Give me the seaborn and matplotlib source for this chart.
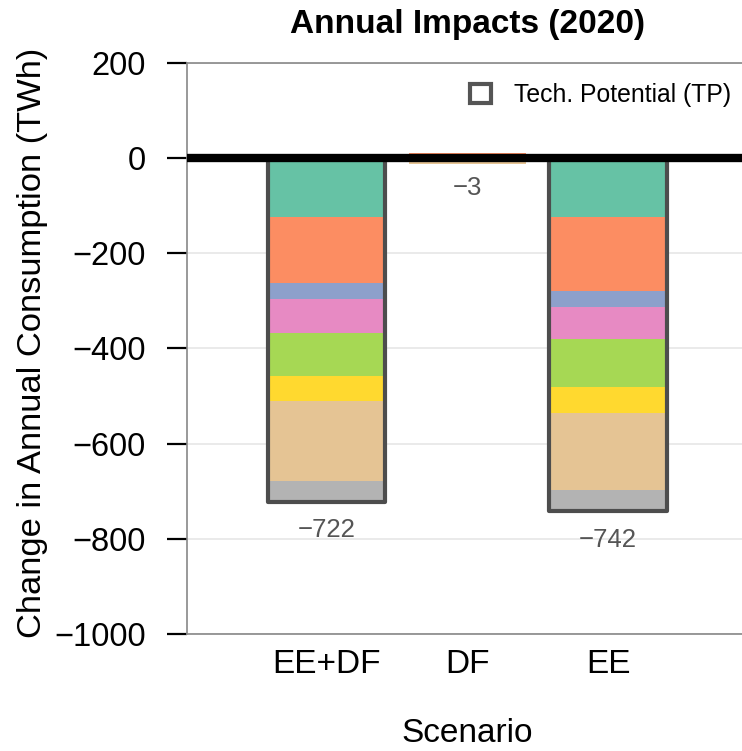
import numpy as np
import pandas as pd
import matplotlib
matplotlib.use("Agg")
import matplotlib.pyplot as plt
from matplotlib.patches import Patch
import seaborn as sns

# Scenarios and end-use savings (TWh, negative = reduction)
scenarios = ["EE+DF", "DF", "EE"]
end_uses = ["Lighting", "Cooling", "Heating", "Ventilation",
            "Refrigeration", "Water Heating", "Plug Loads", "Other"]
ee_df = [-123.8, -138.4, -33.6, -72.8, -90.2, -52.4, -167.8, -43.0]
df = [0.0, 10.0, 0.0, 0.0, 0.0, 0.0, -13.0, 0.0]
ee = [-124.0, -154.6, -35.0, -67.8, -100.0, -55.2, -161.5, -43.9]
totals = [-722, -3, -742]

sns.set_theme(style="white")
plt.rcParams["font.family"] = ["Liberation Sans", "DejaVu Sans"]
plt.rcParams["text.color"] = "black"
plt.rcParams["axes.labelcolor"] = "black"
plt.rcParams["xtick.color"] = "black"
plt.rcParams["ytick.color"] = "black"

colors = sns.color_palette("Set2", 8)

fig = plt.figure(figsize=(7.42, 7.51), dpi=100)
ax = fig.add_axes([187.3 / 742, 117 / 751, (747 - 187.3) / 742, 571.3 / 751])

width = 0.833
seg = pd.DataFrame({"EE+DF": ee_df, "DF": df, "EE": ee}, index=end_uses)

# stacked end-use segments, positives and negatives stacked separately
pos_base = np.zeros(len(scenarios))
neg_base = np.zeros(len(scenarios))
for i, use in enumerate(end_uses):
    vals = seg.loc[use, scenarios].to_numpy(dtype=float)
    pos = np.where(vals > 0, vals, 0)
    neg = np.where(vals < 0, vals, 0)
    ax.bar(np.arange(3), pos, bottom=pos_base, width=width,
           color=colors[i], linewidth=0, zorder=2)
    ax.bar(np.arange(3), neg, bottom=neg_base, width=width,
           color=colors[i], linewidth=0, zorder=2)
    pos_base += pos
    neg_base += neg

# technical potential outline boxes
tp = pd.DataFrame({"Scenario": scenarios, "TP": totals})
sns.barplot(data=tp, x="Scenario", y="TP", order=scenarios, fill=False,
            width=width, edgecolor="#4d4d4d", linewidth=3.0, ax=ax,
            zorder=3, err_kws={"linewidth": 0})
for p in ax.patches[-3:]:
    p.set_joinstyle("round")

# totals beneath the bars
for i, t in enumerate(totals):
    ax.annotate(f"\u2212{abs(t)}", (i, t), xytext=(0, -12),
                textcoords="offset points", ha="center", va="top",
                fontsize=18.5, color="#555555", zorder=5)

ax.axhline(0, color="black", linewidth=6, zorder=4)

ax.set_xlim(-0.986, 2.985)
ax.set_ylim(-1000, 200)
ax.set_yticks([200, 0, -200, -400, -600, -800, -1000])
ax.set_yticklabels(["200", "0", "\u2212200", "\u2212400", "\u2212600",
                    "\u2212800", "\u22121000"])
ax.yaxis.grid(True, color="#e6e6e6", linewidth=1.2)
ax.set_axisbelow(True)

for s in ["left", "bottom", "top", "right"]:
    ax.spines[s].set_color("#888888")
    ax.spines[s].set_linewidth(1.2)

ax.tick_params(axis="y", direction="out", length=14.5, width=1.6,
               color="black", pad=15.5, labelsize=23.5, left=True)
ax.tick_params(axis="x", length=0, pad=11, labelsize=24)

ax.set_xlabel("Scenario", fontsize=24, labelpad=27)
ax.set_ylabel("Change in Annual Consumption (TWh)", fontsize=24.8,
              labelpad=4)
ax.yaxis.label.set_y(0.509)
fig.text(467 / 742, 1 - 24 / 751, "Annual Impacts (2020)", ha="center",
         va="center", fontsize=24, fontweight="bold")

handle = Patch(facecolor="white", edgecolor="#555555", linewidth=3)
ax.legend([handle], ["Tech. Potential (TP)"], loc="center left",
          bbox_to_anchor=(470 / 742, 1 - 95 / 751),
          bbox_transform=fig.transFigure, frameon=False, fontsize=17.8,
          handlelength=0.85, handleheight=0.8, handletextpad=0.95,
          borderpad=0, borderaxespad=0)

fig.savefig("out.png", dpi=100)
